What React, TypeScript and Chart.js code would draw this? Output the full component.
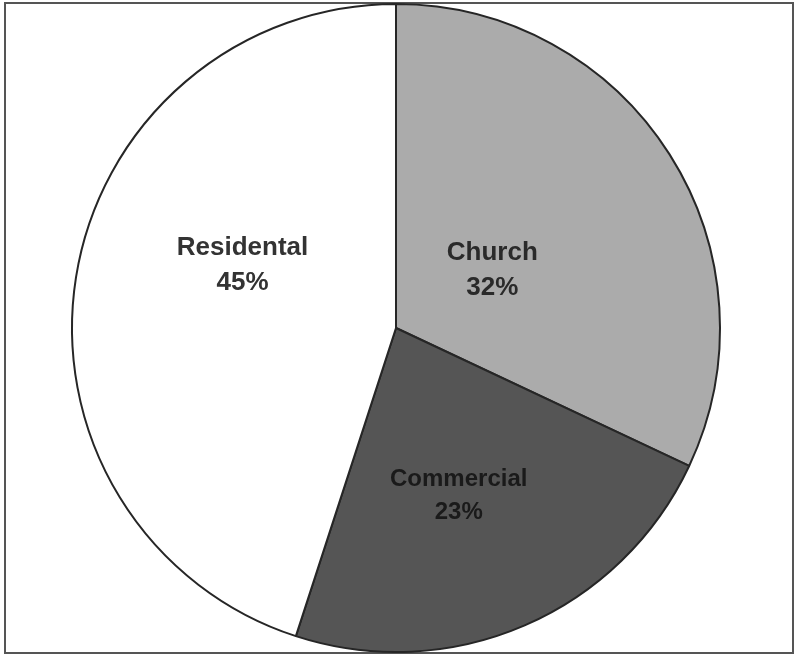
import React, { useEffect, useRef } from "react";
import { Chart, registerables } from "chart.js";

Chart.register(...registerables);

// Share of buildings by use
const categories = ["Church", "Commercial", "Residental"];
const shares = [32, 23, 45];
const sliceColors = ["#ababab", "#555555", "#ffffff"];
const labelColors = ["#2a2a2a", "#1a1a1a", "#333333"];
const labelFontSizes = [26, 24, 26];
// Shift of each label from its slice centre, as a fraction of the outer radius
const labelNudges: [number, number][] = [
  [-0.125, 0.09],
  [-0.005, 0.06],
  [0.02, -0.115],
];

const sliceLabels = {
  id: "sliceLabels",
  afterDatasetsDraw(chart: any) {
    const { ctx } = chart;
    const meta = chart.getDatasetMeta(0);
    meta.data.forEach((arc: any, i: number) => {
      const c = arc.getCenterPoint();
      const r = arc.outerRadius;
      const x = c.x + labelNudges[i][0] * r;
      const y = c.y + labelNudges[i][1] * r;
      const size = labelFontSizes[i];
      const gap = size * 0.68;
      ctx.save();
      ctx.font = `bold ${size}px "Liberation Sans", Arial, sans-serif`;
      ctx.fillStyle = labelColors[i];
      ctx.textAlign = "center";
      ctx.textBaseline = "middle";
      ctx.fillText(categories[i], x, y - gap);
      ctx.fillText(`${shares[i]}%`, x, y + gap);
      ctx.restore();
    });
  },
};

export default function App() {
  const canvasRef = useRef<HTMLCanvasElement | null>(null);

  useEffect(() => {
    if (!canvasRef.current) return;
    const chart = new Chart(canvasRef.current, {
      type: "pie",
      data: {
        labels: categories,
        datasets: [
          {
            data: shares,
            backgroundColor: sliceColors,
            borderColor: "#262626",
            borderWidth: 2,
          },
        ],
      },
      options: {
        responsive: false,
        animation: false,
        layout: { padding: { top: 3, bottom: 4, left: 0, right: 3 } },
        plugins: {
          legend: { display: false },
          tooltip: { enabled: false },
        },
      },
      plugins: [sliceLabels],
    });
    return () => chart.destroy();
  }, []);

  return (
    <div
      style={{
        position: "absolute",
        left: 0,
        top: 0,
        width: 795,
        height: 657,
        background: "#ffffff",
      }}
    >
      <div
        style={{
          position: "absolute",
          left: 4,
          top: 2,
          width: 790,
          height: 652,
          border: "2px solid #555555",
          boxSizing: "border-box",
        }}
      />
      <canvas
        ref={canvasRef}
        width={795}
        height={657}
        style={{ position: "absolute", left: 0, top: 0 }}
      />
    </div>
  );
}
